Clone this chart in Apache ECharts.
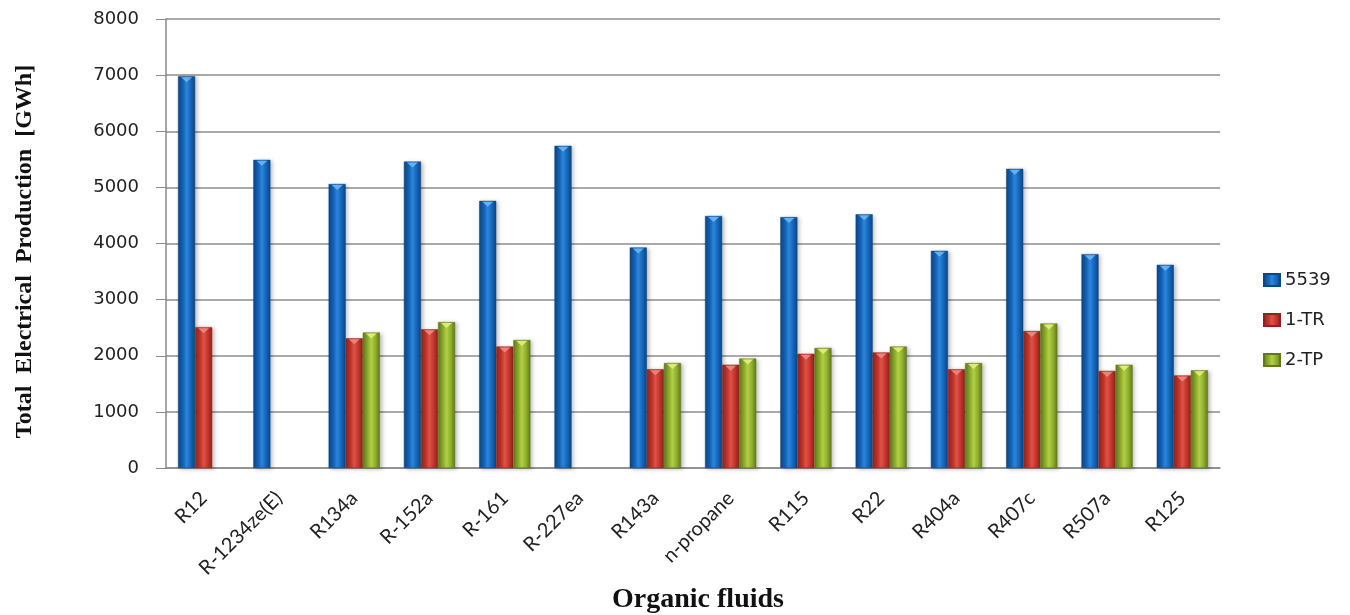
<!DOCTYPE html>
<html>
<head>
<meta charset="utf-8">
<script src="https://cdn.jsdelivr.net/npm/echarts@6/dist/echarts.min.js"></script>
<style>
  html, body { margin: 0; padding: 0; background: #ffffff; overflow: hidden; }
  #chart { width: 1350px; height: 615px; }
</style>
</head>
<body>
<div id="chart"></div>
<script>
// Organic working fluids on the category axis
const fluids = ['R12', 'R-1234ze(E)', 'R134a', 'R-152a', 'R-161', 'R-227ea', 'R143a',
  'n-propane', 'R115', 'R22', 'R404a', 'R407c', 'R507a', 'R125'];

// Total electrical production per configuration [GWh]
const prod5539 = [6980, 5490, 5060, 5460, 4760, 5740, 3930, 4490, 4470, 4520, 3870, 5330, 3810, 3620];
const prod1TR  = [2510, null, 2310, 2470, 2165, null, 1760, 1840, 2035, 2060, 1760, 2440, 1730, 1650];
const prod2TP  = [null, null, 2415, 2600, 2280, null, 1870, 1950, 2140, 2165, 1870, 2575, 1840, 1740];

const yTicks = { min: 0, max: 8000, interval: 1000 };

const CATEGORY_GAP = 0.32;

function shade(edge, mid, light) {
  return new echarts.graphic.LinearGradient(0, 0, 1, 0, [
    { offset: 0, color: edge },
    { offset: 0.3, color: mid },
    { offset: 0.5, color: light },
    { offset: 0.75, color: mid },
    { offset: 1, color: edge }
  ]);
}

const barStyle = (edge, mid, light) => ({
  color: shade(edge, mid, light),
  borderColor: edge,
  borderWidth: 0.5,
  shadowColor: 'rgba(0,0,0,0.25)',
  shadowBlur: 4,
  shadowOffsetX: 2,
  shadowOffsetY: 1
});

// Small bevel highlight on the top of each bar, placed from the axis scales
function bevel(values, slot, color) {
  return {
    type: 'custom',
    silent: true,
    z: 5,
    data: values.map((v, i) => [i, v]).filter(d => d[1] != null),
    encode: { x: 0, y: 1 },
    renderItem: (params, api) => {
      const top = api.coord([api.value(0), api.value(1)]);
      const band = api.size([1, 0])[0];
      const bw = band * (1 - CATEGORY_GAP) / 3;
      const cx = top[0] - band * (1 - CATEGORY_GAP) / 2 + bw * (slot + 0.5);
      const y = top[1];
      return {
        type: 'polygon',
        shape: { points: [[cx - bw * 0.32, y + 1], [cx + bw * 0.32, y + 1], [cx, y + 6]] },
        style: { fill: color, opacity: 0.9 }
      };
    }
  };
}

const chart = echarts.init(document.getElementById('chart'));
chart.setOption({
  animation: false,
  backgroundColor: '#ffffff',
  grid: { left: 166, right: 130, top: 19, bottom: 147, outerBoundsMode: 'none', containLabel: false },
  legend: {
    orient: 'vertical',
    left: 1258,
    top: 266,
    itemWidth: 16,
    itemHeight: 12,
    itemGap: 22,
    icon: 'rect',
    textStyle: { fontFamily: 'DejaVu Sans', fontSize: 18, color: '#222' },
    data: ['5539', '1-TR', '2-TP']
  },
  xAxis: {
    type: 'category',
    data: fluids,
    name: 'Organic fluids',
    nameLocation: 'middle',
    nameGap: 116,
    nameTextStyle: {
      fontFamily: 'Liberation Serif', fontWeight: 'bold', fontSize: 28, color: '#111',
      padding: [0, 0, 0, 10]
    },
    axisLine: { lineStyle: { color: '#8a8a8a', width: 1.5 } },
    axisTick: { show: false },
    axisLabel: {
      rotate: 45,
      margin: 27,
      interval: 0,
      fontFamily: 'Lato',
      fontSize: 20,
      color: '#222'
    }
  },
  yAxis: {
    type: 'value',
    min: yTicks.min,
    max: yTicks.max,
    interval: yTicks.interval,
    name: 'Total  Electrical  Production  [GWh]',
    nameLocation: 'middle',
    nameRotate: 90,
    nameGap: 129,
    nameTextStyle: {
      fontFamily: 'Liberation Serif', fontWeight: 'bold', fontSize: 24, color: '#111',
      padding: [0, 16, 0, 0]
    },
    axisLine: { show: true, lineStyle: { color: '#8a8a8a', width: 1.5 } },
    axisTick: { show: true, length: 10, lineStyle: { color: '#8a8a8a' } },
    axisLabel: {
      margin: 27,
      fontFamily: 'DejaVu Sans',
      fontSize: 18,
      color: '#222',
      formatter: v => String(v)
    },
    splitLine: { lineStyle: { color: '#8c8c8c', width: 1.5 } }
  },
  series: [
    {
      name: '5539', type: 'bar', data: prod5539,
      barGap: '0%', barCategoryGap: (CATEGORY_GAP * 100) + '%',
      itemStyle: barStyle('#0b4685', '#1565b8', '#2b86dc')
    },
    {
      name: '1-TR', type: 'bar', data: prod1TR,
      barGap: '0%', barCategoryGap: (CATEGORY_GAP * 100) + '%',
      itemStyle: barStyle('#8e231d', '#c1352c', '#df5247')
    },
    {
      name: '2-TP', type: 'bar', data: prod2TP,
      barGap: '0%', barCategoryGap: (CATEGORY_GAP * 100) + '%',
      itemStyle: barStyle('#61791a', '#8fae2c', '#b3cf48')
    },
    bevel(prod5539, 0, '#6bb6f5'),
    bevel(prod1TR, 1, '#f08a7e'),
    bevel(prod2TP, 2, '#e3f07a')
  ]
});
</script>
</body>
</html>
